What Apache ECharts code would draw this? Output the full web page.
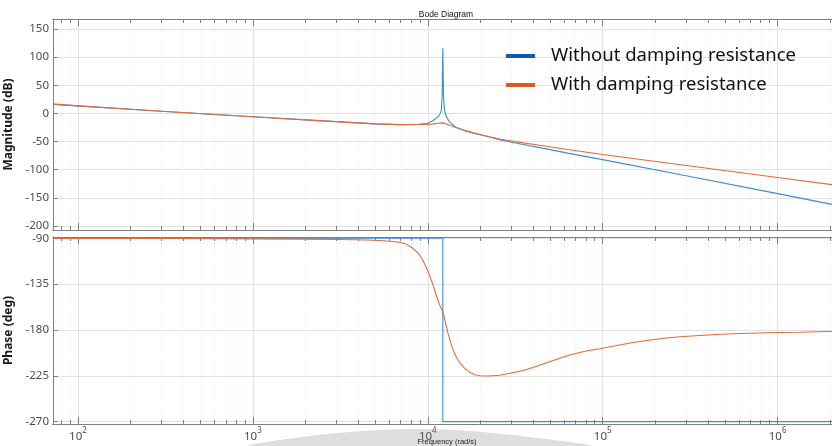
<!DOCTYPE html>
<html><head><meta charset="utf-8">
<script src="https://cdn.jsdelivr.net/npm/echarts@6/dist/echarts.min.js"></script>
<style>html,body{margin:0;padding:0;background:#fff}#c{width:832px;height:446px}</style>
</head><body><div id="c"></div>
<script>
// ---- data (frequency in rad/s) ----
const seriesNames = ['Without damping resistance', 'With damping resistance'];

const freqMagWithout = [72, 100, 316, 1000, 2000, 3160, 5000, 7080, 8910, 10000, 10700, 11350, 11670, 11940, 12080, 12190, 12300, 12470, 12740, 13300, 14520, 16220, 18200, 19950, 22540, 25700, 31620, 47530, 63100, 100000, 316200, 1000000, 2046000];
const magWithout = [16.5, 13.5, 3.5, -6, -11.5, -15, -18.5, -20, -19.2, -17.5, -13, -7, -3, 5, 30, 116, 30, 5, -5, -15, -25, -30.5, -35, -38, -42, -46.5, -52.5, -63, -70.5, -82, -112, -142.5, -161.5];

const freqMagWith = [72, 100, 316, 1000, 2000, 3160, 5000, 7080, 8910, 10640, 11480, 12190, 13180, 14520, 16220, 18200, 19950, 22540, 25700, 31620, 47530, 63100, 100000, 316200, 1000000, 2046000];
const magWith = [16.5, 13.5, 3.5, -6, -11.5, -15, -18.5, -19.8, -19.7, -19, -17.5, -16.8, -20, -25, -30, -34.5, -37.5, -41.5, -45.5, -50, -58.3, -64, -73, -93.4, -113.8, -126.5];

const freqPhaseWithout = [72, 12190, 12190, 2046000];
const phaseWithout = [-90, -90, -270, -270];

const freqPhaseWith = [72, 316, 1000, 2000, 3160, 4470, 5300, 6310, 6890, 7590, 8200, 8810, 9350, 9770, 10230, 10720, 11170, 11670, 12190, 12590, 13000, 13430, 13900, 14450, 15170, 16220, 17340, 18620, 19950, 22390, 25700, 30620, 35480, 39900, 44670, 50100, 56230, 61940, 69180, 75860, 85110, 95940, 120200, 148900, 186200, 231200, 288400, 358100, 446700, 555900, 691800, 863000, 1072000, 1337000, 1660000, 2046000];
const phaseWith = [-90.2, -90.3, -90.6, -90.9, -91.3, -91.7, -92.2, -93.2, -93.9, -96, -99.9, -104.5, -111.4, -118, -126.2, -136, -146, -155, -162.4, -172, -182.2, -191, -198.6, -205.5, -211.8, -217.5, -221.6, -223.9, -225.0, -225.2, -224.4, -222.0, -219.6, -216.9, -213.9, -210.9, -208.0, -205.6, -203.3, -201.6, -199.9, -198.4, -195.3, -192.4, -189.9, -187.9, -186.5, -185.4, -184.5, -183.8, -183.3, -182.8, -182.5, -182.2, -181.8, -181.5];

const decadeTicks = [100, 1000, 10000, 100000, 1000000];
const minorMultipliers = [2, 3, 4, 5, 6, 7, 8, 9];
const magTicks = [150, 100, 50, 0, -50, -100, -150, -200];
const phaseTicks = [-90, -135, -180, -225, -270];

// ---- build ----
const FMIN = 72, FMAX = 2046000;
const xMin = Math.log10(FMIN), xMax = Math.log10(FMAX);
const majorX = decadeTicks.map(v => Math.log10(v));
const minorX = [];
for (let n = 1; n <= 6; n++) minorMultipliers.forEach(k => {
  const v = k * Math.pow(10, n);
  if (v > FMIN && v < FMAX) minorX.push(Math.log10(v));
});
const pairs = (f, v) => f.map((x, i) => [Math.log10(x), v[i]]);

const AX = '#808080';
const FONT = 'Noto Sans';
const BLUE = '#3a8ed3', ORANGE = '#e26a36';

function xAx(gi, position, values, len, extra) {
  return Object.assign({
    type: 'value', gridIndex: gi, position: position, min: xMin, max: xMax,
    axisLine: {show: true, onZero: false, lineStyle: {color: AX, width: 1}},
    axisTick: {show: true, inside: true, length: len, customValues: values, lineStyle: {color: AX}},
    axisLabel: {show: false, customValues: values},
    splitLine: {show: false}
  }, extra || {});
}
const majorSplit = {show: true, lineStyle: {color: '#e2e2e2', width: 1}};
const minorSplit = {show: true, lineStyle: {color: '#ececec', width: 1, type: [1, 2]}};

const xAxes = [];
[0, 1].forEach(gi => {
  xAxes.push(xAx(gi, 'bottom', majorX, 7, gi === 1 ? {
    splitLine: majorSplit,
    axisLabel: {
      show: true, customValues: majorX, margin: 3, color: '#4d4d4d', fontFamily: FONT,
      formatter: v => '{b|10}{s|' + Math.round(v) + '}',
      rich: {
        b: {fontSize: 11.5, lineHeight: 16, verticalAlign: 'bottom', color: '#4d4d4d', fontFamily: FONT},
        s: {fontSize: 8, lineHeight: 9, verticalAlign: 'top', color: '#4d4d4d', fontFamily: FONT}
      }
    }
  } : {splitLine: majorSplit}));
  xAxes.push(xAx(gi, 'bottom', minorX, 4, {splitLine: minorSplit}));
  xAxes.push(xAx(gi, 'top', majorX, 7));
  xAxes.push(xAx(gi, 'top', minorX, 4));
});

function yAx(gi, min, max, ticks, name) {
  return {
    type: 'value', gridIndex: gi, position: 'left', min: min, max: max,
    name: name, nameLocation: 'middle', nameGap: 31, nameRotate: 90,
    nameTextStyle: {fontFamily: FONT, fontSize: 12, fontWeight: 'bold', color: '#1a1a1a'},
    axisLine: {show: true, onZero: false, lineStyle: {color: AX, width: 1}},
    axisTick: {show: true, inside: true, length: 5, customValues: ticks, lineStyle: {color: AX}},
    axisLabel: {show: true, customValues: ticks, margin: 4, fontFamily: FONT, fontSize: 11.5, color: '#4d4d4d'},
    splitLine: {show: true, lineStyle: {color: '#e2e2e2', width: 1}}
  };
}

const option = {
  animation: false,
  backgroundColor: '#ffffff',
  grid: [
    {left: 53, right: 0, top: 19, height: 211, containLabel: false, outerBoundsMode: 'none'},
    {left: 53, right: 0, top: 237, height: 187, containLabel: false, outerBoundsMode: 'none'}
  ],
  xAxis: xAxes,
  yAxis: [
    yAx(0, -207.1, 167.8, magTicks, 'Magnitude (dB)'),
    yAx(1, -272.3, -88.8, phaseTicks, 'Phase (deg)')
  ],
  legend: {
    orient: 'vertical', left: 506, top: 46, padding: 0, itemWidth: 29, itemHeight: 4, itemGap: 9, icon: 'rect',
    data: [
      {name: seriesNames[0], itemStyle: {color: '#0b5db2'}},
      {name: seriesNames[1], itemStyle: {color: '#dd5a1f'}}
    ],
    textStyle: {fontFamily: FONT, fontSize: 18.5, lineHeight: 20, color: '#111', padding: [0, 0, 0, 11]}
  },
  graphic: [
    {type: 'polygon', z: -10, shape: {points: [[250, 446], [310, 436], [370, 430.5], [420, 429], [470, 431], [530, 437], [590, 446]], smooth: 0.3}, style: {fill: '#dedede'}},
    {type: 'text', z: 10, x: 446, y: 15, style: {text: 'Bode Diagram', font: '8.5px "Liberation Sans"', fill: '#111', textAlign: 'center', textVerticalAlign: 'middle'}},
    {type: 'text', z: 10, x: 447, y: 442, style: {text: 'Frequency (rad/s)', font: '7.5px "Liberation Sans"', fill: '#222', textAlign: 'center', textVerticalAlign: 'middle'}}
  ],
  series: [
    {name: seriesNames[0], type: 'line', xAxisIndex: 0, yAxisIndex: 0, data: pairs(freqMagWithout, magWithout), showSymbol: false, lineStyle: {color: BLUE, width: 1.1}, itemStyle: {color: BLUE}},
    {name: seriesNames[1], type: 'line', xAxisIndex: 0, yAxisIndex: 0, data: pairs(freqMagWith, magWith), showSymbol: false, lineStyle: {color: ORANGE, width: 1.1}, itemStyle: {color: ORANGE}},
    {name: seriesNames[0], type: 'line', xAxisIndex: 4, yAxisIndex: 1, data: pairs(freqPhaseWithout, phaseWithout), showSymbol: false, lineStyle: {color: BLUE, width: 1.1}, itemStyle: {color: BLUE}},
    {name: seriesNames[1], type: 'line', xAxisIndex: 4, yAxisIndex: 1, data: pairs(freqPhaseWith, phaseWith), showSymbol: false, lineStyle: {color: ORANGE, width: 1.1}, itemStyle: {color: ORANGE}}
  ]
};
echarts.init(document.getElementById('c'), null, {renderer: 'canvas'}).setOption(option);
</script></body></html>
